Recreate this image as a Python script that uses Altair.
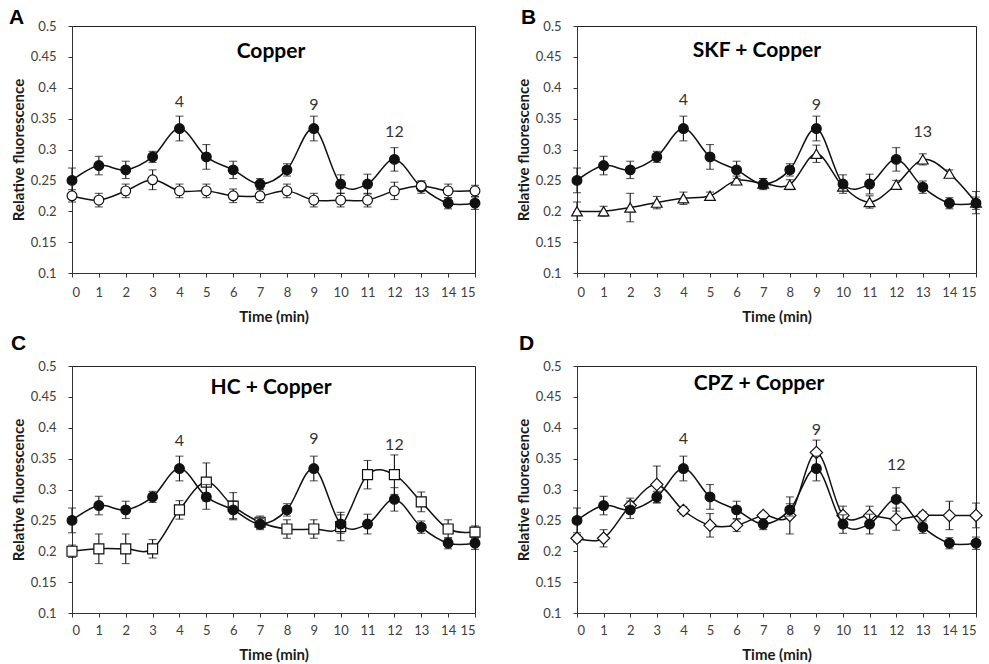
import altair as alt
import pandas as pd

# Time points (min)
minutes = list(range(16))

# Copper alone (filled circles) - shared reference series in every panel
copper = [0.250, 0.274, 0.267, 0.288, 0.334, 0.288, 0.267, 0.244,
          0.267, 0.334, 0.244, 0.244, 0.284, 0.239, 0.213, 0.213]
copper_err = [0.020, 0.015, 0.014, 0.009, 0.020, 0.020, 0.014, 0.009,
              0.010, 0.020, 0.015, 0.016, 0.019, 0.010, 0.009, 0.010]

# Panel A: control (open circles)
control = [0.225, 0.218, 0.233, 0.251, 0.233, 0.233, 0.225, 0.225,
           0.233, 0.218, 0.218, 0.218, 0.233, 0.241, 0.233, 0.233]
control_err = [0.010, 0.011, 0.011, 0.016, 0.011, 0.011, 0.011, 0.011,
               0.011, 0.011, 0.011, 0.011, 0.014, 0.008, 0.011, 0.009]

# Panel B: SKF + copper (open triangles)
skf = [0.200, 0.200, 0.206, 0.214, 0.221, 0.225, 0.250, 0.245,
       0.243, 0.293, 0.240, 0.215, 0.243, 0.284, 0.261, 0.214]
skf_err = [0.015, 0.008, 0.023, 0.010, 0.010, 0.006, 0.007, 0.008,
           0.008, 0.014, 0.006, 0.010, 0.007, 0.009, 0.006, 0.018]

# Panel C: HC + copper (open squares)
hc = [0.200, 0.204, 0.204, 0.204, 0.267, 0.312, 0.273, 0.247,
      0.236, 0.236, 0.240, 0.324, 0.324, 0.280, 0.236, 0.231]
hc_err = [0.010, 0.024, 0.024, 0.015, 0.015, 0.031, 0.022, 0.010,
          0.015, 0.015, 0.023, 0.023, 0.032, 0.016, 0.015, 0.010]

# Panel D: CPZ + copper (open diamonds)
cpz = [0.221, 0.221, 0.274, 0.308, 0.266, 0.242, 0.242, 0.258,
       0.258, 0.360, 0.258, 0.258, 0.252, 0.258, 0.258, 0.258]
cpz_err = [0.006, 0.014, 0.012, 0.030, 0.006, 0.019, 0.010, 0.005,
           0.030, 0.020, 0.015, 0.015, 0.018, 0.006, 0.023, 0.020]

# Peak annotations: (minute, label, height)
peaks_a = [(4, "4", 0.377), (9, "9", 0.372), (12, "12", 0.329)]
peaks_b = [(4, "4", 0.380), (9, "9", 0.372), (13, "13", 0.329)]
peaks_c = [(4, "4", 0.379), (9, "9", 0.382), (12, "12", 0.372)]
peaks_d = [(4, "4", 0.382), (9, "9", 0.396), (12, "12", 0.340)]

y_ticks = [0.1, 0.15, 0.2, 0.25, 0.3, 0.35, 0.4, 0.45, 0.5]

FONT = "Lato"
INK = "#111111"

x_scale = alt.Scale(domain=[0, 15], nice=False)
y_scale = alt.Scale(domain=[0.1, 0.5], nice=False, zero=False)


def make_axes(h, label_pad):
    x_axis = alt.Axis(values=minutes, format="d", title="Time (min)",
                      labelOverlap=False, labelPadding=label_pad,
                      titlePadding=10)
    y_axis = alt.Axis(values=y_ticks, format="~g", labelOverlap=False,
                      title="Relative fluorescence",
                      titleX=-54, titleY=h / 2, titleAngle=-90,
                      titleAlign="center", titleBaseline="middle",
                      labelPadding=12)
    return x_axis, y_axis


def series_layers(values, errs, shape, filled, x_axis, y_axis):
    df = pd.DataFrame({"t": minutes, "v": values,
                       "lo": [v - e for v, e in zip(values, errs)],
                       "hi": [v + e for v, e in zip(values, errs)]})
    base = alt.Chart(df)
    x_enc = alt.X("t:Q", scale=x_scale, axis=x_axis)

    def y_of(field):
        return alt.Y(f"{field}:Q", scale=y_scale, axis=y_axis)

    rule = base.mark_rule(color=INK, strokeWidth=1.1).encode(
        x=x_enc, y=y_of("lo"), y2="hi:Q")
    cap_lo = base.mark_tick(color=INK, orient="horizontal", size=8,
                            thickness=1.1).encode(x=x_enc, y=y_of("lo"))
    cap_hi = base.mark_tick(color=INK, orient="horizontal", size=8,
                            thickness=1.1).encode(x=x_enc, y=y_of("hi"))
    line = base.mark_line(color=INK, strokeWidth=1.5,
                          interpolate="cardinal").encode(x=x_enc, y=y_of("v"))
    size = {"circle": 95, "triangle-up": 115, "square": 100, "diamond": 150}[shape]
    pts = base.mark_point(shape=shape, size=size, filled=True,
                          fill=INK if filled else "white",
                          stroke=INK, strokeWidth=1.2, opacity=1).encode(
        x=x_enc, y=y_of("v"))
    return [rule, cap_lo, cap_hi, line, pts]


def panel(values, errs, shape, name, letter, peaks, w, h,
          name_x, name_y, letter_x, letter_y, label_pad,
          open_on_top=False):
    x_axis, y_axis = make_axes(h, label_pad)
    ref = series_layers(copper, copper_err, "circle", True, x_axis, y_axis)
    trt = series_layers(values, errs, shape, False, x_axis, y_axis)
    layers = ref + trt if open_on_top else trt + ref
    pk = pd.DataFrame({"t": [p[0] for p in peaks],
                       "label": [p[1] for p in peaks],
                       "y": [p[2] for p in peaks]})
    notes = alt.Chart(pk).mark_text(font=FONT, fontSize=16, color="#333333",
                                    baseline="middle").encode(
        x=alt.X("t:Q", scale=x_scale, axis=x_axis),
        y=alt.Y("y:Q", scale=y_scale, axis=y_axis), text="label:N")
    head = alt.Chart(pd.DataFrame({"name": [name]})).mark_text(
        font=FONT, fontSize=21, fontWeight="bold", color="black",
        baseline="middle").encode(
        x=alt.value(name_x), y=alt.value(name_y), text="name:N")
    tag = alt.Chart(pd.DataFrame({"tag": [letter]})).mark_text(
        font="Liberation Sans", fontSize=21, fontWeight="bold",
        color="black", align="left", baseline="alphabetic").encode(
        x=alt.value(letter_x), y=alt.value(letter_y), text="tag:N")
    return alt.layer(*layers, notes, head, tag).properties(width=w, height=h)


W_L, W_R, H = 403, 399, 247

chart_a = panel(control, control_err, "circle", "Copper", "A", peaks_a,
                W_L, H, 199, 26, -63, -2, 9, open_on_top=True)
chart_b = panel(skf, skf_err, "triangle-up", "SKF + Copper", "B", peaks_b,
                W_R, H, 180, 25, -56, -2, 9)
chart_c = panel(hc, hc_err, "square", "HC + Copper", "C", peaks_c,
                W_L, H, 199, 22, -61, -16, 7)
chart_d = panel(cpz, cpz_err, "diamond", "CPZ + Copper", "D", peaks_d,
                W_R, H, 182, 18, -58, -16, 7)

chart = alt.concat(
    chart_a, chart_b, chart_c, chart_d, columns=2,
    spacing={"row": 93, "column": 102}, bounds="flush"
).properties(
    padding={"left": 8, "top": 6, "right": 0, "bottom": 0},
    background="white",
).configure_view(
    stroke="#222222", strokeWidth=1
).configure_axis(
    grid=False, domainColor="#333333", tickColor="#333333", tickSize=4,
    labelColor="#404040", labelFont=FONT, labelFontSize=13,
    titleFont=FONT, titleFontSize=15, titleFontWeight="bold",
    titleColor="#1a1a1a"
)

chart.save("out.html", embed_options={"renderer": "svg", "actions": False})
